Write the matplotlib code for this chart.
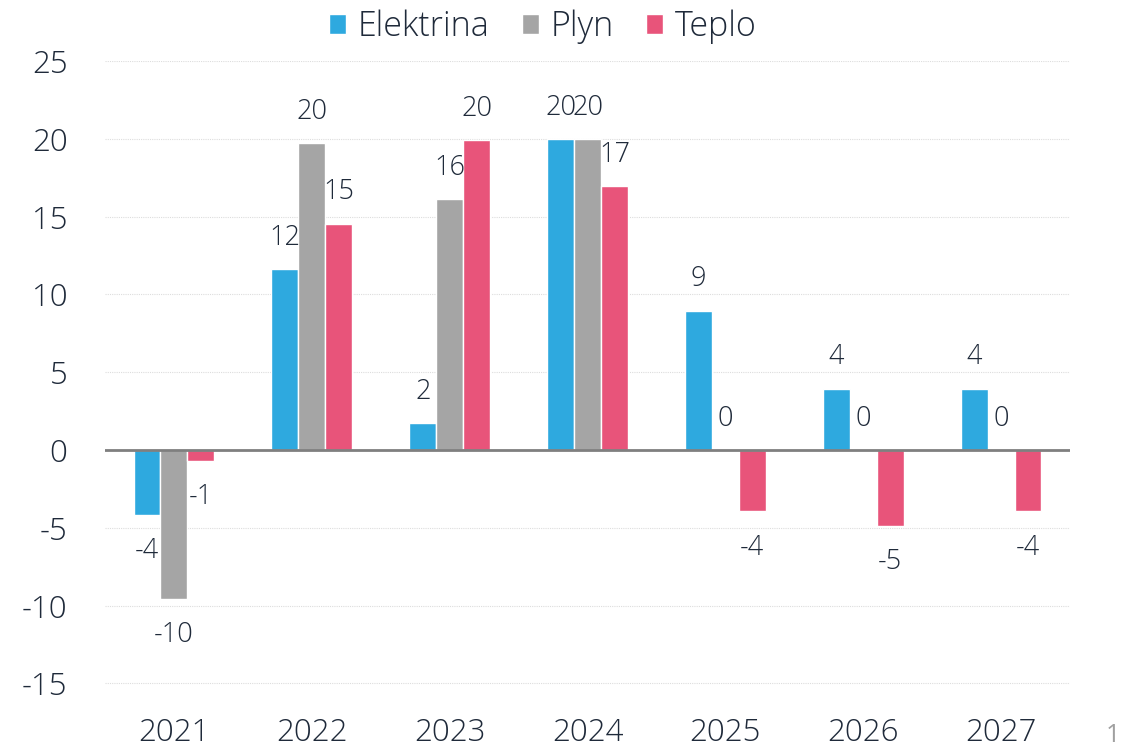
import matplotlib
matplotlib.use("Agg")
import matplotlib.pyplot as plt
import numpy as np

plt.rcParams['font.family'] = ['Open Sans', 'DejaVu Sans']
plt.rcParams['axes.unicode_minus'] = False

years = ['2021', '2022', '2023', '2024', '2025', '2026', '2027']
series_names = ['Elektrina', 'Plyn', 'Teplo']
elektrina = [-4.2, 11.6, 1.75, 20.0, 8.95, 3.95, 3.95]
plyn = [-9.55, 19.7, 16.1, 20.0, 0.0, 0.0, 0.0]
teplo = [-0.7, 14.55, 19.9, 16.95, -3.95, -4.9, -3.95]
colors = ['#2EA9DF', '#A5A5A5', '#E8547A']
text_color = '#1F2A3A'

fig = plt.figure(figsize=(11.22, 7.45), dpi=100)
ax = fig.add_axes([105/1122, 1-714.5/745, (1070-105)/1122, (714.5-61)/745])

x = np.arange(len(years))
w = 0.195
data = [elektrina, plyn, teplo]
for i, (vals, name, c) in enumerate(zip(data, series_names, colors)):
    pos = x + (i - 1) * w
    ax.bar(pos, vals, width=w, color=c, edgecolor='white', linewidth=1, label=name, zorder=3)
    for px, v in zip(pos, vals):
        off = 22.5 if v >= 0 else -26
        lab = str(int(np.floor(abs(v) + 0.5)) * (1 if v >= 0 else -1))
        ax.annotate(lab, xy=(px, v), xytext=(0, off), textcoords='offset points',
                    ha='center', va='center', fontsize=19.5, color=text_color, zorder=4,
                    fontweight='light')

ax.set_xlim(-0.5, 6.5)
ax.set_ylim(-17, 25)
ax.set_yticks(np.arange(-15, 26, 5))
ax.set_xticks(x)
ax.set_xticklabels(years)
ax.tick_params(axis='both', length=0, labelsize=22.5, colors=text_color)
for t in ax.get_xticklabels() + ax.get_yticklabels():
    t.set_fontweight('light')
ax.tick_params(axis='y', pad=27)
ax.tick_params(axis='x', pad=2)
for s in ax.spines.values():
    s.set_visible(False)
ax.grid(axis='y', color='#DDDDDD', linestyle=(0, (1, 1)), linewidth=0.8, zorder=0)
ax.axhline(0, color='#7F7F7F', linewidth=2, zorder=5)
ax.set_axisbelow(True)

handles, labels = ax.get_legend_handles_labels()
leg = fig.legend(handles, labels, loc='center', bbox_to_anchor=(543/1122, 1-27/745), ncol=3,
                 frameon=False, prop={'size': 24.5, 'weight': 'light'}, handlelength=0.5, handleheight=0.5,
                 handletextpad=0.35, columnspacing=0.95, labelcolor=text_color)

fig.text(1113/1122, 1-735/745, '1', color='#A0A0A0', fontsize=18, ha='center', va='center')

fig.savefig('out.png', dpi=100)
